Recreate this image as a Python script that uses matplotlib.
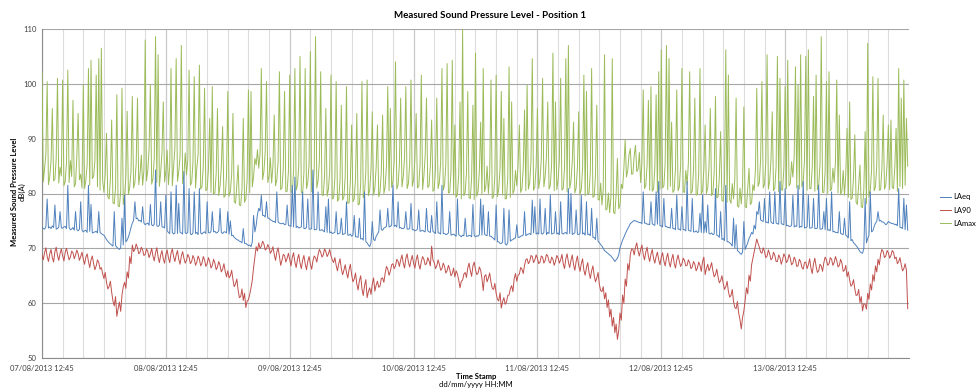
import pandas as pd
import matplotlib
matplotlib.use('Agg')
import matplotlib.pyplot as plt
import matplotlib.dates as mdates

plt.rcParams['font.family'] = ['Lato', 'DejaVu Sans']

# --- values, one value per 15 min from 07/08/2013 12:45 --- #
# --- (one row = 4 hours, one block = 1 day) --- #
start = '2013-08-07 12:45'

laeq = [
    73.8, 73.6, 73.5, 73.9, 79.0, 73.7, 73.9, 73.6, 74.1, 73.8, 77.9, 73.5, 73.6, 73.9, 76.7, 73.7,
    73.7, 73.9, 74.0, 73.6, 81.5, 73.8, 73.4, 73.5, 73.8, 73.3, 76.7, 73.4, 73.2, 73.5, 78.5, 73.3,
    73.0, 73.2, 73.3, 72.9, 81.5, 73.1, 78.0, 72.8, 72.9, 73.0, 73.1, 72.8, 76.7, 72.9, 72.7, 72.5,
    72.4, 72.0, 71.6, 71.3, 71.0, 70.8, 70.6, 70.4, 76.7, 70.5, 70.2, 70.0, 69.8, 70.1, 75.5, 70.6,
    79.7, 71.2, 71.5, 72.1, 72.9, 73.8, 74.6, 75.1, 78.5, 75.4, 75.5, 75.0, 75.1, 74.8, 77.6, 74.6,
    74.3, 74.5, 74.6, 74.2, 78.0, 74.3, 74.1, 74.4, 84.3, 74.1, 74.0, 74.2, 78.5, 73.9, 73.9, 73.7,
    # 08/08
    79.7, 73.2, 72.9, 72.7, 80.3, 72.9, 72.6, 72.8, 81.5, 72.7, 78.2, 72.9, 72.8, 72.6, 84.0, 72.8,
    72.7, 72.9, 80.9, 72.6, 72.5, 72.8, 80.3, 72.7, 72.9, 72.5, 80.9, 72.8, 72.6, 72.9, 73.0, 72.7,
    78.5, 72.9, 72.8, 73.1, 76.7, 73.0, 73.1, 72.8, 72.9, 73.2, 77.3, 72.9, 72.7, 73.0, 73.0, 72.8,
    76.7, 72.6, 75.0, 72.3, 72.4, 72.0, 71.8, 71.6, 71.5, 71.3, 71.2, 71.0, 73.6, 70.9, 70.9, 70.7,
    70.5, 70.6, 70.3, 71.2, 76.0, 73.0, 74.2, 76.2, 77.3, 76.8, 79.7, 76.0, 76.0, 75.7, 78.5, 75.5,
    75.5, 75.2, 75.1, 74.9, 74.9, 74.7, 80.3, 74.8, 74.6, 74.5, 74.5, 74.6, 74.3, 74.4, 77.9, 74.2,
    # 09/08
    74.1, 74.0, 81.5, 73.9, 83.0, 73.8, 74.0, 73.7, 73.8, 73.9, 80.3, 73.6, 73.6, 73.8, 79.0, 73.5,
    73.5, 73.6, 84.3, 73.4, 73.4, 73.5, 80.3, 73.3, 73.3, 73.4, 73.2, 73.0, 77.6, 72.9, 79.0, 72.8,
    73.0, 72.7, 72.8, 72.9, 76.7, 72.6, 72.7, 72.8, 75.5, 72.5, 72.6, 72.7, 78.5, 72.4, 72.4, 72.6,
    72.2, 72.4, 76.0, 72.1, 72.1, 72.0, 75.5, 71.7, 71.8, 71.5, 80.3, 71.2, 71.0, 70.6, 70.3, 71.0,
    74.9, 71.6, 71.4, 72.2, 72.6, 73.0, 77.0, 73.4, 73.3, 73.7, 73.8, 74.0, 77.3, 73.9, 74.0, 74.2,
    81.5, 74.0, 74.2, 73.9, 78.5, 73.7, 73.8, 73.6, 73.6, 73.8, 76.7, 73.5, 73.5, 73.6, 78.2, 73.4,
    # 10/08
    73.4, 73.2, 73.3, 73.5, 77.0, 73.1, 73.2, 73.3, 73.1, 73.0, 77.3, 73.2, 73.0, 72.9, 76.0, 73.1,
    72.9, 72.7, 78.5, 72.8, 72.8, 72.6, 81.5, 72.7, 72.7, 72.5, 72.6, 72.8, 76.7, 72.4, 72.5, 72.6,
    72.4, 72.2, 79.0, 72.5, 72.3, 72.1, 72.4, 72.3, 75.5, 72.2, 72.2, 72.4, 72.3, 72.1, 78.0, 72.3,
    72.1, 72.3, 72.2, 72.5, 79.0, 72.4, 77.9, 72.6, 72.4, 72.3, 76.7, 72.2, 72.2, 72.0, 71.8, 71.5,
    77.9, 71.2, 71.2, 70.9, 70.9, 71.1, 77.3, 70.8, 70.6, 71.0, 77.0, 71.3, 71.5, 71.6, 71.8, 71.9,
    74.3, 72.0, 72.0, 72.2, 72.3, 72.4, 76.7, 72.3, 72.5, 72.6, 72.7, 72.5, 78.8, 72.8, 77.6, 72.6,
    # 11/08
    72.8, 72.6, 79.0, 72.7, 72.6, 72.9, 77.3, 72.5, 72.9, 72.7, 79.7, 72.6, 72.7, 72.8, 76.7, 72.6,
    72.8, 72.5, 78.5, 72.7, 72.6, 72.8, 72.9, 72.6, 80.9, 72.7, 80.0, 72.5, 72.7, 72.8, 77.0, 72.6,
    72.5, 72.7, 79.7, 72.6, 72.8, 72.4, 78.5, 72.5, 72.6, 72.3, 77.3, 72.0, 72.0, 71.6, 75.5, 71.3,
    71.0, 70.7, 70.4, 70.0, 69.6, 69.4, 69.2, 69.0, 68.8, 68.6, 68.3, 68.0, 67.6, 67.9, 68.2, 68.8,
    70.1, 70.8, 71.5, 72.0, 72.6, 73.1, 73.6, 74.0, 74.5, 74.7, 74.9, 75.1, 75.0, 74.9, 74.8, 74.7,
    74.7, 74.5, 80.3, 74.6, 74.6, 74.4, 74.4, 74.3, 78.5, 74.5, 74.3, 74.2, 80.3, 74.4, 82.2, 74.1,
    # 12/08
    74.1, 73.9, 79.1, 74.0, 74.0, 73.8, 73.8, 73.7, 77.3, 73.6, 73.6, 73.4, 79.7, 73.5, 73.5, 73.3,
    77.6, 73.4, 73.4, 73.2, 82.2, 73.3, 73.2, 73.1, 79.1, 73.0, 73.0, 73.2, 72.9, 73.0, 76.4, 72.9,
    79.7, 72.8, 74.9, 72.9, 77.9, 72.7, 72.6, 72.8, 72.5, 72.6, 80.9, 72.4, 72.3, 72.0, 76.7, 71.6,
    71.8, 71.4, 81.5, 71.2, 71.2, 71.0, 70.8, 70.4, 75.5, 70.0, 74.3, 69.6, 69.4, 69.1, 68.9, 69.3,
    74.9, 69.8, 70.4, 71.0, 71.8, 72.3, 72.9, 72.6, 74.2, 73.5, 76.7, 76.2, 78.5, 75.2, 75.0, 74.9,
    79.1, 74.7, 74.8, 74.6, 80.3, 74.8, 74.6, 74.5, 80.3, 74.6, 74.5, 74.4, 82.2, 74.5, 74.4, 74.3,
    # 13/08
    80.9, 74.1, 74.2, 74.0, 74.0, 74.2, 79.7, 73.9, 74.1, 74.0, 81.5, 73.8, 74.0, 73.9, 82.2, 73.7,
    73.8, 73.9, 79.7, 73.7, 73.7, 73.8, 79.1, 73.6, 73.6, 73.7, 81.5, 73.5, 73.5, 73.6, 76.7, 73.4,
    79.1, 73.3, 73.4, 73.2, 80.3, 73.0, 73.1, 72.9, 72.9, 72.8, 76.7, 72.7, 72.6, 72.5, 75.5, 72.4,
    72.2, 71.9, 78.5, 71.4, 71.6, 71.0, 70.8, 70.5, 70.2, 69.8, 69.4, 69.2, 69.1, 70.0, 79.1, 71.0,
    71.8, 72.4, 80.3, 73.0, 73.2, 74.0, 74.6, 74.9, 76.7, 75.0, 75.1, 74.8, 74.8, 74.6, 74.3, 74.5,
    74.9, 74.7, 74.6, 74.5, 74.5, 74.3, 74.4, 74.1, 80.9, 73.8, 73.8, 73.6, 79.1, 73.4, 77.9, 73.3,
]

la90 = [
    68.8, 67.9, 69.2, 70.1, 68.5, 67.6, 69.0, 69.8, 68.3, 67.5, 69.4, 70.2, 68.7, 67.8, 69.1, 69.9,
    68.6, 67.7, 69.3, 70.0, 68.9, 67.9, 68.4, 69.5, 69.2, 68.1, 68.8, 69.7, 69.0, 67.8, 68.5, 69.3,
    68.0, 67.1, 68.4, 69.0, 67.6, 66.5, 67.9, 68.6, 67.2, 66.1, 66.8, 67.9, 67.4, 66.2, 66.5, 65.4,
    64.5, 65.6, 63.8, 62.6, 63.0, 64.0, 62.0, 60.4, 59.5, 61.2, 57.6, 59.0, 60.2, 58.5, 61.5, 63.0,
    63.8, 62.7, 65.7, 64.6, 68.5, 67.2, 70.6, 69.4, 69.8, 70.8, 70.1, 69.0, 69.3, 70.2, 69.7, 68.7,
    68.9, 69.9, 69.4, 68.3, 69.0, 70.0, 68.6, 67.7, 69.2, 70.1, 68.4, 67.4, 68.8, 69.6, 68.1, 67.3,
    # 08/08
    68.9, 69.7, 68.3, 67.4, 69.1, 69.9, 68.5, 67.6, 68.8, 69.6, 68.0, 67.1, 68.6, 69.4, 68.2, 67.3,
    67.8, 68.9, 68.4, 67.2, 67.6, 68.7, 68.1, 66.9, 67.5, 68.6, 68.0, 66.8, 67.3, 68.5, 67.9, 66.7,
    67.2, 68.3, 67.6, 66.4, 66.9, 68.0, 67.3, 66.1, 66.6, 67.6, 66.9, 65.7, 66.2, 67.2, 65.8, 64.8,
    65.9, 64.6, 65.0, 66.0, 64.3, 63.0, 63.5, 64.4, 62.4, 61.0, 61.2, 62.6, 60.5, 61.8, 59.2, 60.4,
    60.6, 61.6, 62.8, 64.2, 66.5, 68.4, 70.3, 69.5, 71.0, 70.0, 70.4, 71.3, 70.8, 69.7, 69.9, 70.7,
    70.2, 69.1, 69.5, 70.3, 68.9, 67.8, 69.3, 70.1, 68.6, 66.9, 67.8, 68.9, 68.7, 67.5, 68.2, 69.1,
    # 09/08
    67.9, 66.8, 68.4, 69.2, 67.5, 66.5, 68.0, 68.9, 67.3, 66.3, 67.8, 68.7, 67.2, 66.1, 67.6, 68.5,
    67.1, 66.2, 67.7, 68.6, 68.3, 67.5, 68.9, 69.8, 69.3, 68.4, 68.8, 69.9, 69.4, 68.5, 69.0, 69.8,
    68.6, 67.9, 67.4, 68.3, 66.9, 65.9, 67.2, 68.1, 66.3, 65.2, 66.0, 67.0, 65.6, 64.6, 66.1, 67.1,
    65.2, 63.9, 64.4, 65.5, 63.5, 62.4, 64.1, 65.0, 62.6, 61.4, 63.2, 64.3, 61.0, 62.1, 62.8, 61.6,
    63.5, 64.6, 62.2, 63.3, 64.0, 62.9, 63.1, 64.5, 64.6, 63.8, 65.5, 66.7, 66.2, 65.1, 65.8, 67.0,
    67.2, 66.3, 66.8, 68.0, 67.6, 66.7, 67.9, 68.8, 67.3, 66.4, 68.2, 69.0, 67.5, 66.6, 67.8, 68.7,
    # 10/08
    67.3, 66.4, 67.9, 68.8, 67.1, 66.2, 67.6, 68.5, 68.0, 67.0, 67.2, 68.3, 67.7, 66.8, 70.4, 67.9,
    67.4, 66.3, 66.8, 67.9, 67.1, 66.0, 66.3, 67.3, 66.7, 65.5, 65.9, 66.9, 66.2, 65.0, 65.4, 66.4,
    64.8, 65.9, 65.3, 64.2, 62.8, 64.0, 64.2, 65.3, 65.6, 64.7, 66.4, 67.3, 65.9, 64.9, 66.8, 67.5,
    66.1, 65.2, 65.5, 66.6, 66.0, 64.5, 62.3, 64.9, 65.2, 63.9, 64.6, 65.5, 63.8, 62.7, 62.5, 63.6,
    61.8, 60.7, 60.4, 61.9, 59.1, 60.3, 61.0, 59.8, 60.2, 61.4, 61.5, 62.6, 63.2, 62.1, 64.5, 65.4,
    64.0, 65.1, 65.3, 66.5, 66.2, 65.4, 66.9, 67.9, 68.1, 67.2, 67.6, 68.7, 68.5, 67.4, 67.9, 68.8,
    # 11/08
    68.2, 67.2, 67.5, 68.6, 68.4, 67.3, 67.8, 68.9, 68.6, 67.6, 67.3, 68.4, 68.0, 66.9, 67.6, 68.7,
    68.3, 67.3, 67.9, 68.9, 67.2, 66.3, 68.1, 69.0, 67.5, 66.5, 67.8, 68.8, 67.0, 66.0, 67.6, 68.6,
    66.8, 65.8, 67.2, 68.1, 66.0, 65.1, 66.5, 67.4, 65.6, 64.5, 65.9, 66.8, 65.0, 63.9, 64.6, 65.6,
    63.4, 62.3, 62.1, 63.0, 60.8, 61.9, 59.2, 60.6, 57.5, 58.9, 55.8, 57.4, 54.6, 56.2, 53.4, 55.0,
    58.2, 56.9, 61.5, 60.0, 64.4, 63.1, 67.2, 66.0, 68.9, 69.9, 69.8, 68.8, 70.2, 71.0, 69.5, 68.6,
    69.8, 70.6, 68.9, 67.9, 69.3, 70.2, 68.6, 67.6, 68.9, 69.8, 68.2, 67.3, 68.5, 69.3, 67.9, 67.0,
    # 12/08
    68.4, 69.2, 67.7, 66.8, 68.2, 69.1, 67.5, 66.6, 68.0, 68.9, 67.3, 66.4, 67.9, 68.8, 67.6, 66.7,
    67.2, 68.2, 67.8, 66.8, 66.9, 67.9, 67.4, 66.3, 66.6, 67.6, 67.1, 65.9, 66.4, 67.5, 66.9, 65.8,
    67.6, 68.4, 65.2, 66.3, 67.1, 65.9, 66.5, 67.4, 65.9, 64.8, 65.2, 66.2, 64.8, 63.7, 64.1, 65.0,
    63.6, 62.5, 63.0, 64.0, 62.2, 61.1, 61.4, 62.5, 60.3, 59.2, 59.0, 60.3, 58.2, 57.0, 55.3, 57.4,
    58.6, 60.5, 62.8, 61.7, 65.1, 64.0, 67.0, 68.2, 69.5, 70.6, 71.7, 70.9, 70.2, 69.3, 69.1, 70.1,
    69.4, 68.3, 68.6, 69.7, 69.0, 67.9, 68.2, 69.3, 68.7, 67.6, 67.6, 68.8, 68.3, 67.1, 67.9, 69.0,
    # 13/08
    68.5, 67.4, 67.8, 68.9, 68.2, 67.0, 67.3, 68.4, 67.9, 66.7, 66.8, 68.0, 67.6, 66.5, 66.2, 67.4,
    67.5, 66.3, 67.0, 68.1, 66.4, 65.4, 67.2, 68.2, 66.7, 65.6, 65.9, 67.1, 66.8, 65.8, 67.4, 68.4,
    67.9, 66.9, 67.2, 68.3, 68.0, 66.9, 67.4, 68.5, 67.8, 66.6, 66.9, 68.0, 67.3, 65.8, 66.0, 66.9,
    64.8, 65.7, 64.2, 63.1, 63.4, 64.3, 62.6, 61.4, 61.5, 62.5, 60.1, 61.2, 58.6, 59.9, 59.8, 58.9,
    61.8, 60.7, 63.5, 62.4, 65.2, 64.0, 66.8, 65.7, 68.0, 67.0, 68.9, 69.8, 69.4, 68.3, 68.6, 69.6,
    69.2, 68.2, 68.7, 69.6, 69.3, 68.1, 68.4, 67.2, 67.6, 68.3, 67.0, 65.9, 66.3, 67.2, 66.0, 59.0,
]

lamax = [
    102.2, 82.1, 84.5, 87.2, 100.4, 81.6, 83.0, 85.9, 95.5, 82.3, 82.6, 86.4, 101.0, 81.9, 84.8, 83.2,
    100.7, 81.4, 82.2, 85.7, 102.5, 82.0, 86.0, 83.1, 97.0, 81.2, 81.8, 86.8, 94.6, 82.5, 83.5, 81.0,
    99.8, 80.9, 82.4, 85.3, 102.8, 81.5, 104.3, 82.7, 83.1, 86.0, 101.6, 81.2, 104.6, 80.6, 106.5, 82.4,
    80.2, 83.5, 91.0, 79.4, 79.0, 82.6, 93.4, 78.3, 78.1, 81.0, 98.0, 77.7, 77.6, 80.4, 99.2, 78.0,
    79.5, 83.0, 95.0, 79.8, 81.2, 84.1, 97.7, 81.0, 82.0, 85.5, 97.4, 81.6, 83.6, 87.0, 81.5, 84.2,
    108.0, 82.3, 84.2, 88.1, 99.8, 81.7, 82.7, 86.4, 108.6, 82.0, 105.3, 81.3, 83.9, 87.5, 96.7, 82.1,
    # 08/08
    84.1, 87.9, 81.6, 85.0, 102.8, 81.4, 85.0, 88.3, 104.6, 82.2, 84.0, 86.7, 107.0, 81.8, 83.2, 87.4,
    83.4, 86.1, 102.5, 81.5, 82.0, 85.6, 101.3, 81.0, 84.6, 87.2, 103.4, 80.8, 81.3, 84.9, 99.2, 80.5,
    80.8, 84.4, 93.7, 80.2, 99.5, 79.9, 80.1, 83.6, 95.5, 79.6, 81.4, 84.8, 92.2, 79.3, 79.6, 83.1,
    98.6, 79.5, 80.3, 83.4, 94.6, 78.6, 78.2, 81.5, 85.2, 77.9, 77.8, 80.9, 93.7, 78.4, 79.0, 82.6,
    98.9, 80.1, 98.6, 81.2, 83.1, 86.4, 85.2, 88.0, 84.6, 87.3, 102.8, 82.5, 84.0, 87.6, 100.4, 82.0,
    83.2, 86.5, 81.9, 85.1, 94.3, 81.4, 82.5, 85.8, 102.2, 80.7, 81.0, 84.6, 98.6, 80.3, 80.4, 84.0,
    # 09/08
    101.6, 80.4, 80.1, 84.2, 102.8, 80.6, 81.5, 85.0, 105.0, 80.2, 80.0, 83.7, 102.8, 80.9, 82.0, 85.4,
    105.9, 80.3, 80.6, 84.5, 108.6, 81.0, 82.3, 85.9, 102.2, 79.8, 79.6, 83.2, 95.5, 79.5, 80.8, 84.1,
    101.6, 79.0, 79.2, 82.8, 100.4, 78.6, 78.9, 82.4, 96.1, 78.8, 79.4, 83.0, 99.5, 78.2, 78.3, 82.1,
    92.5, 78.5, 79.0, 82.7, 94.6, 77.9, 78.1, 81.8, 100.4, 79.2, 80.2, 83.9, 100.7, 79.6, 80.6, 84.3,
    94.9, 79.7, 81.0, 84.8, 92.5, 79.4, 80.3, 84.0, 94.3, 80.0, 81.2, 85.1, 99.5, 80.5, 95.5, 81.1,
    82.2, 86.0, 104.0, 80.8, 81.6, 85.3, 97.4, 81.2, 83.0, 86.6, 99.5, 80.9, 81.8, 85.5, 100.7, 81.3,
    # 10/08
    82.5, 86.2, 94.6, 81.0, 81.3, 85.2, 101.6, 80.7, 83.2, 86.9, 97.4, 81.1, 81.4, 85.0, 93.4, 80.4,
    80.7, 84.6, 97.4, 80.9, 82.0, 85.7, 102.8, 80.6, 81.5, 85.3, 103.7, 80.1, 80.2, 84.0, 104.3, 79.8,
    92.5, 79.3, 79.8, 83.5, 96.7, 79.0, 110.0, 79.6, 80.2, 83.8, 98.6, 79.2, 79.1, 82.9, 96.1, 78.9,
    105.6, 79.5, 80.4, 84.1, 93.0, 79.8, 102.8, 80.3, 81.3, 85.0, 80.0, 83.7, 100.7, 79.1, 79.4, 83.2,
    101.6, 79.4, 80.8, 84.4, 98.6, 79.7, 93.7, 79.0, 79.1, 82.8, 103.1, 79.3, 96.7, 80.0, 80.6, 84.2,
    81.4, 85.1, 92.5, 80.2, 80.9, 84.6, 95.2, 80.5, 99.8, 80.8, 82.0, 85.8, 104.6, 80.6, 81.2, 85.0,
    # 11/08
    95.5, 80.9, 82.6, 86.3, 101.0, 81.2, 83.1, 86.7, 96.7, 80.8, 81.5, 85.4, 105.6, 80.5, 96.7, 80.7,
    82.4, 86.1, 101.0, 80.6, 80.9, 84.7, 104.6, 80.3, 107.0, 80.9, 82.2, 85.9, 93.0, 80.1, 81.0, 84.8,
    94.9, 79.8, 80.7, 84.5, 101.6, 79.6, 98.6, 79.9, 80.1, 84.0, 102.8, 79.3, 79.5, 83.4, 96.1, 78.9,
    78.8, 81.9, 77.9, 80.8, 105.3, 77.0, 77.2, 80.1, 76.5, 79.4, 104.6, 76.6, 76.3, 79.8, 86.4, 77.2,
    78.0, 81.7, 80.9, 84.6, 89.8, 83.0, 84.2, 87.1, 88.2, 83.5, 83.6, 86.9, 88.8, 84.0, 84.4, 87.5,
    82.0, 85.6, 98.9, 80.9, 81.5, 85.2, 97.0, 80.6, 99.5, 80.4, 80.8, 84.7, 98.0, 80.2, 102.2, 80.8,
    # 12/08
    106.2, 81.0, 81.4, 85.5, 107.0, 80.7, 104.6, 81.3, 93.0, 80.2, 80.6, 84.6, 98.9, 80.5, 81.2, 85.1,
    102.8, 80.3, 80.2, 84.2, 81.6, 85.6, 102.2, 80.0, 80.4, 84.3, 97.4, 79.7, 79.8, 83.6, 102.8, 79.9,
    80.5, 84.4, 92.5, 80.0, 81.0, 84.9, 95.5, 79.6, 80.1, 83.9, 97.7, 79.2, 79.4, 83.1, 91.3, 78.7,
    78.6, 82.2, 106.2, 78.4, 101.6, 78.9, 78.2, 81.8, 79.0, 82.7, 97.4, 77.8, 77.5, 81.0, 78.1, 81.5,
    95.8, 77.6, 77.4, 80.9, 84.6, 78.0, 78.3, 81.6, 80.5, 84.5, 99.2, 81.3, 82.0, 86.2, 100.4, 81.0,
    81.7, 85.7, 105.3, 80.8, 82.3, 86.0, 94.9, 80.5, 81.0, 84.9, 105.0, 80.3, 101.0, 80.7, 80.6, 84.6,
    # 13/08
    99.5, 80.9, 104.3, 81.4, 81.8, 85.8, 83.0, 86.7, 103.1, 81.0, 99.8, 80.8, 105.3, 81.2, 82.1, 86.1,
    105.0, 80.6, 106.2, 80.9, 80.9, 84.8, 97.7, 80.4, 101.6, 80.7, 81.4, 85.3, 108.6, 80.2, 80.2, 84.1,
    100.4, 80.0, 102.2, 80.5, 80.8, 84.6, 82.0, 85.8, 100.7, 80.1, 94.3, 79.8, 80.5, 84.2, 79.7, 83.5,
    91.9, 79.3, 96.7, 78.9, 79.2, 82.9, 90.7, 78.4, 78.0, 81.6, 85.2, 77.6, 77.4, 80.8, 91.3, 78.1,
    107.4, 79.4, 80.6, 84.3, 101.3, 80.5, 81.2, 85.1, 101.0, 80.6, 80.7, 84.6, 94.3, 80.8, 81.5, 85.4,
    92.5, 80.7, 93.4, 81.1, 80.9, 84.8, 91.9, 80.4, 102.8, 81.3, 97.4, 80.9, 100.7, 81.5, 93.7, 85.0,
]

times = pd.date_range(start, periods=len(laeq), freq='15min')
t0 = pd.Timestamp(start)

fig = plt.figure(figsize=(9.76, 3.9), dpi=100)
ax = fig.add_axes([42 / 976, 1 - 358 / 390, (909 - 42) / 976, (358 - 29) / 390])

l3, = ax.plot(times, lamax, color='#9bbb59', lw=0.7, label='LAmax', zorder=3)
l2, = ax.plot(times, la90, color='#c0504d', lw=0.7, label='LA90', zorder=3)
l1, = ax.plot(times, laeq, color='#4f81bd', lw=0.7, label='LAeq', zorder=4)

ax.set_ylim(50, 110)
ax.set_yticks(range(50, 111, 10))
ax.set_xlim(t0, t0 + pd.Timedelta(days=7))
ax.set_xticks(pd.date_range(start, periods=7, freq='D'))
ax.set_xticks(pd.date_range(start, periods=42, freq='4h'), minor=True)
ax.xaxis.set_major_formatter(mdates.DateFormatter('%d/%m/%Y %H:%M'))

ax.grid(axis='x', which='minor', color='#dddddd', lw=0.8, zorder=0)
ax.grid(axis='x', which='major', color='#c8c8c8', lw=0.9, zorder=0)
ax.grid(axis='y', color='#a6a6a6', lw=0.8, zorder=0)
ax.set_axisbelow(True)

for s in ['top', 'right']:
    ax.spines[s].set_visible(False)
for s in ['left', 'bottom']:
    ax.spines[s].set_color('#8c8c8c')
    ax.spines[s].set_linewidth(0.8)

ax.tick_params(axis='both', which='both', length=0, labelsize=5.5, colors='#404040')
ax.tick_params(axis='y', pad=4)
ax.tick_params(axis='x', pad=5)

fig.text(490 / 976, 1 - 16 / 390, 'Measured Sound Pressure Level - Position 1',
         ha='center', va='center', fontsize=7, fontweight='bold')
fig.text(15 / 976, 1 - 192 / 390, 'Measured Sound Pressure Level', rotation=90,
         ha='center', va='center', fontsize=5.5, fontweight='bold')
fig.text(22.5 / 976, 1 - 192 / 390, 'dB(A)', rotation=90,
         ha='center', va='center', fontsize=5.5)
fig.text(476 / 976, 1 - 377 / 390, 'Time Stamp', ha='center', va='center',
         fontsize=5.5, fontweight='bold')
fig.text(476 / 976, 1 - 385 / 390, 'dd/mm/yyyy HH:MM', ha='center', va='center',
         fontsize=5.5)

fig.legend([l1, l2, l3], ['LAeq', 'LA90', 'LAmax'], loc='center left',
           bbox_to_anchor=(940 / 976, 1 - 210 / 390), frameon=False, fontsize=5.5,
           handlelength=1.5, handletextpad=0.3, labelspacing=0.8,
           borderpad=0, borderaxespad=0)

fig.savefig('out.png', dpi=100)
